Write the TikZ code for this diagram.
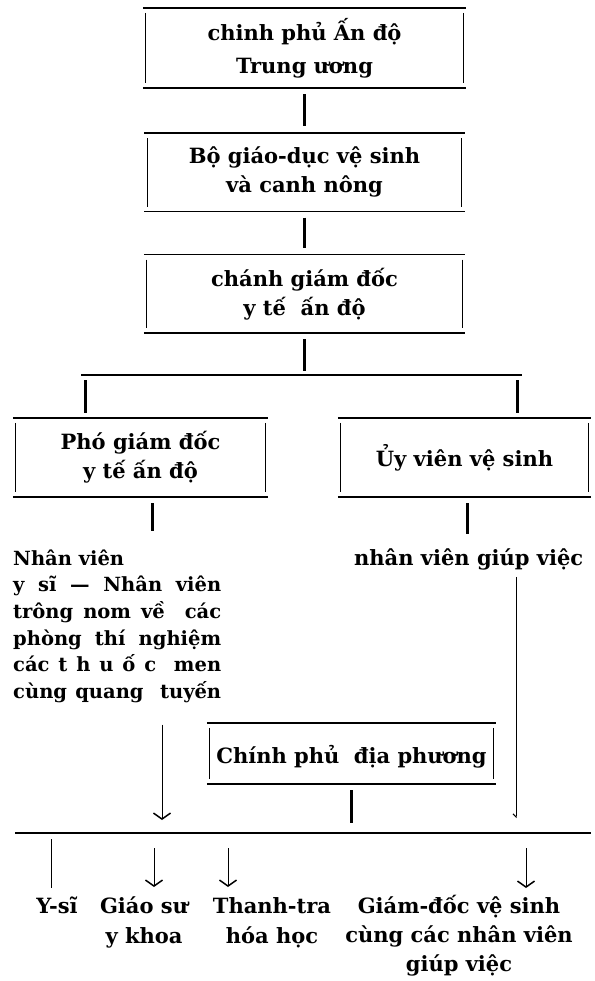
\documentclass[tikz,border=0pt]{standalone}
\usepackage{fontspec}
\setmainfont{DejaVu Serif}
\usetikzlibrary{%
	positioning,
	calc,
	arrows.meta
}

% frame of an office: full rules on top and bottom, short sides
\newcommand\orgframe[1]{%
	\draw [hline] (#1.north west) -- (#1.north east);
	\draw [hline] (#1.south west) -- (#1.south east);
	\draw [vline] ([xshift=3pt,yshift=-5pt]#1.north west) -- ([xshift=3pt,yshift=5pt]#1.south west);
	\draw [vline] ([xshift=-3pt,yshift=-5pt]#1.north east) -- ([xshift=-3pt,yshift=5pt]#1.south east);
}
\newcommand\topstrut{\rule{0pt}{20pt}}
\newlength\blockw
\setlength\blockw{208pt}
\newcommand\jline[1]{\makebox[\blockw][s]{#1}}

\begin{document}
\begin{tikzpicture}[x=1pt,y=-1pt,
		orgbox/.style={inner sep=0pt,align=center,font=\fontsize{21}{29}\selectfont\bfseries},
		plain/.style={inner sep=0pt,font=\fontsize{21}{30}\selectfont\bfseries},
		block/.style={inner sep=0pt,font=\fontsize{19.5}{26.6}\selectfont\bfseries},
		hline/.style={line width=1.5pt},
		vline/.style={line width=0.9pt},
		bar/.style={line width=3pt,shorten <=6pt,shorten >=7pt},
		lead/.style={line width=1pt},
		vtip/.style={-{Straight Barb[length=6pt,width=17pt,line width=1.5pt]}},
		tick/.style={-{Straight Barb[right,length=3pt,width=6pt,line width=1pt]}}
	]
	\useasboundingbox (0,0) rectangle (594,981);

		%central offices
		\node (central) [orgbox,minimum width=323pt,minimum height=80pt] at (304.5,48) {chinh phủ Ấn độ\\[4pt]Trung ương};
		\node (ministry) [orgbox,minimum width=320pt,minimum height=78pt,below=45pt of central] {Bộ giáo-dục vệ sinh\\và canh nông};
		\node (director) [orgbox,minimum width=321pt,minimum height=78pt,below=43pt of ministry] {chánh giám đốc\\y tế \ ấn độ};
		\orgframe{central}
		\orgframe{ministry}
		\orgframe{director}
		\draw [bar] (central.south) -- (ministry.north);
		\draw [bar] (ministry.south) -- (director.north);

		%two branches
		\coordinate (forkL) at (81,375);
		\coordinate (forkR) at (522,375);
		\coordinate (dropL) at (85,375);
		\coordinate (dropR) at (517,375);
		\node (deputy) [orgbox,minimum width=255pt,minimum height=79pt] at (140.5,457.5) {Phó giám đốc\\y tế ấn độ};
		\node (hygiene) [orgbox,minimum width=253pt,minimum height=79pt] at (464.5,457.5) {Ủy viên vệ sinh};
		\orgframe{deputy}
		\orgframe{hygiene}
		\draw [bar,shorten >=4pt] (director.south) -- (director.south |- forkL);
		\draw [hline] (forkL) -- (forkR);
		\draw [bar,shorten <=5pt,shorten >=5pt] (dropL) -- (dropL |- deputy.north);
		\draw [bar,shorten <=5pt,shorten >=5pt] (dropR) -- (dropR |- hygiene.north);

		%staff
		\node (staff) [block,align=left,anchor=north west] at (13,545) {\topstrut Nhân viên\\\jline{y sĩ — Nhân viên}\\\jline{trông nom về \ các}\\\jline{phòng thí nghiệm}\\\jline{các t h u ố c \ men}\\\jline{cùng quang \ tuyến}};
		\node (assist) [plain,anchor=base west] at (354,565) {nhân viên giúp việc};
		\draw [bar,shorten >=14pt] ([xshift=11.5pt]deputy.south) -- ([xshift=11.5pt]deputy.south |- staff.north);
		\draw [bar,shorten >=14pt] ([xshift=2.5pt]hygiene.south) -- ([xshift=2.5pt]hygiene.south |- assist.north);

		%local government and bus
		\node (local) [orgbox,minimum width=289pt,minimum height=61pt,text height=25pt] at (351.5,753.5) {Chính phủ \ địa phương};
		\orgframe{local}
		\coordinate (busL) at (15,833);
		\coordinate (busR) at (591,833);
		\coordinate (inL) at (162,833);
		\coordinate (inR) at (516,833);
		\draw [lead,vtip,shorten <=22pt,shorten >=13pt] (inL |- staff.south) -- (inL);
		\draw [lead,tick,shorten <=7pt,shorten >=15pt] (inR |- assist.south) -- (inR);
		\draw [bar,shorten >=10pt] (local.south) -- (local.south |- busL);
		\draw [line width=1.6pt] (busL) -- (busR);

		%posts
		\node (ysi) [plain,anchor=north] at (57,893) {\topstrut Y-sĩ};
		\node (prof) [plain,align=center,anchor=north] at (144,893) {\topstrut Giáo sư\\y khoa};
		\node (chem) [plain,align=center,anchor=north] at (272,893) {\topstrut Thanh-tra\\hóa học};
		\node (health) [plain,align=center,anchor=north,font=\fontsize{21}{29}\selectfont\bfseries] at (459,893) {\topstrut Giám-đốc vệ sinh\\cùng các nhân viên\\giúp việc};
		\coordinate (colA) at (51,833);
		\coordinate (colB) at (154,833);
		\coordinate (colC) at (228,833);
		\coordinate (colD) at (526,833);
		\draw [lead,shorten <=6pt,shorten >=5pt] (colA) -- (colA |- ysi.north);
		\draw [lead,vtip,shorten <=15pt,shorten >=6pt] (colB) -- (colB |- prof.north);
		\draw [lead,vtip,shorten <=15pt,shorten >=6pt] (colC) -- (colC |- chem.north);
		\draw [lead,vtip,shorten <=15pt,shorten >=5pt] (colD) -- (colD |- health.north);

	\end{tikzpicture}
\end{document}
